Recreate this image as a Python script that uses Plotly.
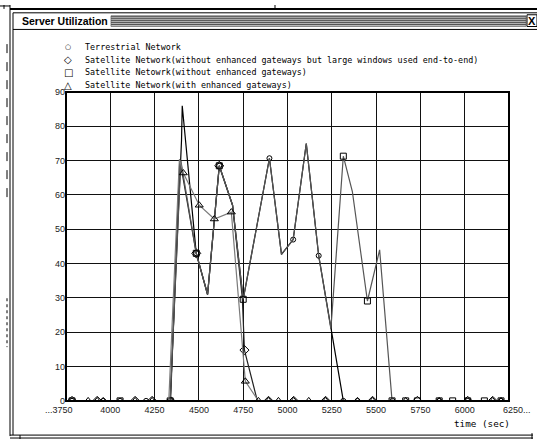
import plotly.graph_objects as go

W, H = 537, 444

# ---------------- data ----------------
x_ticks = [3750, 4000, 4250, 4500, 4750, 5000, 5250, 5500, 5750, 6000, 6250]
x_tick_labels = ["...3750", "4000", "4250", "4500", "4750", "5000", "5250", "5500", "5750", "6000", "6250..."]
y_ticks = [0, 10, 20, 30, 40, 50, 60, 70, 80, 90]

series_names = [
    "Terrestrial Network",
    "Satellite Network(without enhanced gateways but large windows used end-to-end)",
    "Satellite Netowrk(without enhanced gateways)",
    "Satellite Network(with enhanced gateways)",
]

terr_t = [3784, 3960, 4055, 4202, 4338, 4402, 4406, 4485, 4549, 4615, 4690, 4750, 4898, 4966, 5032, 5106, 5176, 5315, 5395, 5592, 5856, 6017, 6205]
terr_v = [0, 0, 0, 0, 0, 76, 86, 43, 31, 68.5, 57, 29.6, 70.7, 42.7, 47, 75, 42.3, 0, 0, 0, 0, 0, 0]
terr_unmarked = [4402, 4406, 4549, 4690, 4750, 4966, 5106]

large_t = [3784, 3926, 4140, 4236, 4340, 4392, 4485, 4549, 4615, 4690, 4745, 4757, 4830, 4893, 5035, 5215, 5480, 5733, 6017, 6158]
large_v = [0, 0, 0, 0, 0, 70.4, 43, 31, 68.5, 57, 30, 14.8, 0, 0, 0, 0, 0, 0, 0, 0]
large_unmarked = [4392, 4549, 4690, 4745, 4830]

noenh_t = [3784, 4055, 4338, 4398, 4485, 4549, 4615, 4690, 4750, 4898, 4966, 5032, 5106, 5176, 5245, 5315, 5366, 5451, 5520, 5590, 5667, 5733, 5856, 5932, 6017, 6111, 6205]
noenh_v = [0, 0, 0, 70, 43, 31, 68.5, 57, 29.6, 70.7, 42.7, 47, 75, 42.3, 21, 71.3, 61, 29.1, 44, 0, 0, 0, 0, 0, 0, 0, 0]
noenh_unmarked = [4398, 4549, 4690, 4898, 4966, 5032, 5106, 5176, 5245, 5366, 5520]

enh_t = [3875, 3926, 3960, 4140, 4236, 4330, 4390, 4412, 4502, 4587, 4683, 4762, 4836, 4893, 4949, 5035, 5120, 5215, 5395, 5480, 5667, 5856, 6158, 6205]
enh_v = [0, 0, 0, 0, 0, 0, 70.4, 66.4, 57, 53, 55, 5.7, 0, 0, 0, 0, 0, 0, 0, 0, 0, 0, 0, 0]
enh_unmarked = [4330, 4390]

# ---------------- figure ----------------
def px(x):
    return x / W

def py(y):
    return 1 - y / H

X0, X1 = 66, 509
Y0, Y1 = 405, 89

fig = go.Figure()

styles = [
    (terr_t, terr_v, terr_unmarked, "#000000", "circle-open", 5),
    (large_t, large_v, large_unmarked, "#222222", "diamond-open", 7),
    (noenh_t, noenh_v, noenh_unmarked, "#555555", "square-open", 6),
    (enh_t, enh_v, enh_unmarked, "#7a7a7a", "triangle-up-open", 7),
]
for name, (t, v, unm, col, sym, sz) in zip(series_names, styles):
    fig.add_trace(go.Scatter(x=t, y=v, mode="lines", line=dict(color=col, width=1.2),
                             showlegend=False, hoverinfo="skip"))
    mt = [a for a in t if a not in unm]
    mv = [b for a, b in zip(t, v) if a not in unm]
    fig.add_trace(go.Scatter(x=mt, y=mv, mode="markers", name=name, showlegend=False,
                             marker=dict(symbol=sym, size=sz, color="black",
                                         line=dict(color="black", width=1)),
                             hoverinfo="skip"))

tick_font = dict(family="Liberation Sans, Arial, sans-serif", size=9, color="#222")

fig.update_layout(
    width=W, height=H,
    margin=dict(l=0, r=0, t=0, b=0),
    paper_bgcolor="white", plot_bgcolor="white",
    showlegend=False,
    xaxis=dict(domain=[px(X0), px(X1)], range=[3750, 6250],
               tickvals=x_ticks[1:-1], ticktext=x_tick_labels[1:-1],
               showgrid=True, gridcolor="#111", gridwidth=1,
               zeroline=False, showline=False, ticks="", tickfont=tick_font,
               ticklabelstandoff=2),
    yaxis=dict(domain=[py(Y0), py(Y1)], range=[0, 90],
               tickvals=y_ticks, ticktext=[str(v) for v in y_ticks],
               showgrid=True, gridcolor="#111", gridwidth=1,
               zeroline=False, showline=False, ticks="", tickfont=tick_font),
)

shapes = []
# plot border
shapes.append(dict(type="rect", xref="x domain", yref="y domain", x0=0, x1=1, y0=0, y1=1,
                   line=dict(color="black", width=2)))

def hline(x0, x1, y, w=1, c="black", dash="solid"):
    shapes.append(dict(type="line", xref="paper", yref="paper", x0=px(x0), x1=px(x1),
                       y0=py(y), y1=py(y), line=dict(color=c, width=w, dash=dash), layer="above"))

def vline(x, y0, y1, w=1, c="black", dash="solid"):
    shapes.append(dict(type="line", xref="paper", yref="paper", x0=px(x), x1=px(x),
                       y0=py(y0), y1=py(y1), line=dict(color=c, width=w, dash=dash), layer="above"))

# title bar stripes (background first)
shapes.append(dict(type="rect", xref="paper", yref="paper", x0=px(111), x1=px(526),
                   y0=py(22), y1=py(11), line=dict(color="#888888", width=1),
                   fillcolor="#bdbdbd", layer="above"))
for yy in [12, 14, 16, 18, 20]:
    hline(111, 526, yy, 1, "#505050")

# window frame
hline(10, 537, 4, 2)
hline(0, 10, 1, 1)
vline(4, 0, 4, 1)
vline(275, 0, 4, 1)
vline(10, 0, 441, 1)
vline(13, 8, 440, 1)
vline(7, 40, 200, 1, dash="dash")
vline(7, 300, 350, 1, dash="dot")
hline(13, 537, 8, 1)
hline(13, 537, 25, 1)
hline(10, 533, 440, 1)
hline(10, 533, 443, 1)
vline(20, 440, 444, 1)
vline(532, 438, 444, 1)
# close box
shapes.append(dict(type="rect", xref="paper", yref="paper", x0=px(527), x1=px(537),
                   y0=py(22), y1=py(10), line=dict(color="black", width=1), fillcolor="white",
                   layer="above"))
fig.update_layout(shapes=shapes)

ann = []
ann.append(dict(xref="paper", yref="paper", x=px(20), y=py(16.5), xanchor="left", yanchor="middle",
                text="<b>Server Utilization</b>", showarrow=False,
                font=dict(family="Liberation Sans, Arial, sans-serif", size=10.5, color="black")))
ann.append(dict(xref="paper", yref="paper", x=px(532), y=py(16), xanchor="center", yanchor="middle",
                text="<b>X</b>", showarrow=False,
                font=dict(family="Liberation Sans, Arial, sans-serif", size=11, color="black")))
# legend
leg_syms = ["○", "◇", "□", "△"]
leg_sizes = [7, 10, 10, 10]
leg_rows = [43, 56, 69, 82]
mono = "DejaVu Sans Mono, Liberation Mono, monospace"
for s, sz, row, name in zip(leg_syms, leg_sizes, leg_rows, series_names):
    ann.append(dict(xref="paper", yref="paper", x=px(68), y=py(row), xanchor="center", yanchor="middle",
                    text=s, showarrow=False,
                    font=dict(family="DejaVu Sans, sans-serif", size=sz, color="black")))
    ann.append(dict(xref="paper", yref="paper", x=px(83), y=py(row), xanchor="left", yanchor="middle",
                    text=name, showarrow=False,
                    font=dict(family=mono, size=8.4, color="black")))
# end tick labels
ann.append(dict(xref="x", yref="paper", x=x_ticks[0], y=py(414), xanchor="center", yanchor="middle",
                text=x_tick_labels[0], showarrow=False, xshift=-7, font=tick_font))
ann.append(dict(xref="x", yref="paper", x=x_ticks[-1], y=py(414), xanchor="center", yanchor="middle",
                text=x_tick_labels[-1], showarrow=False, xshift=8, font=tick_font))
ann.append(dict(xref="paper", yref="paper", x=px(482), y=py(428), xanchor="center", yanchor="middle",
                text="time (sec)", showarrow=False,
                font=dict(family=mono, size=9.3, color="black")))
fig.update_layout(annotations=ann)

fig.write_html("out.html")
